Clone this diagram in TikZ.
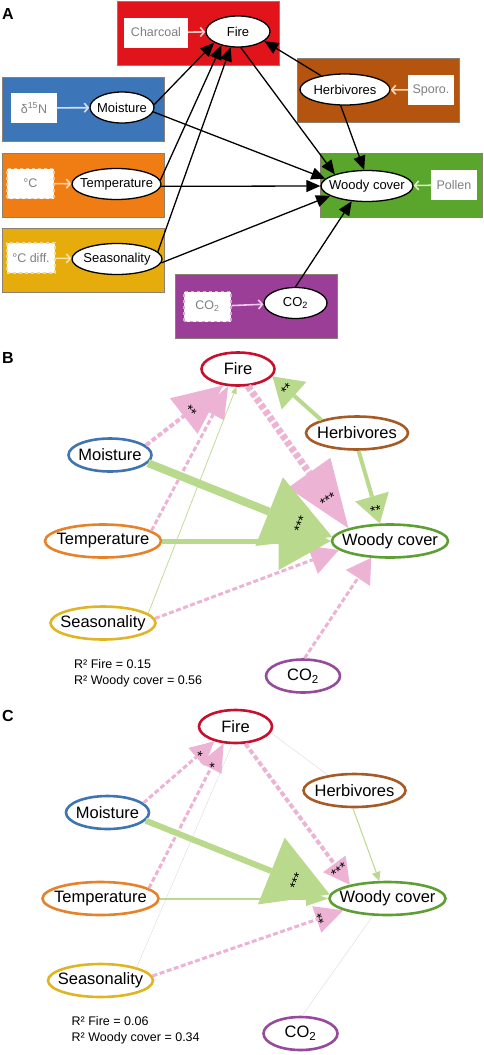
\documentclass[tikz,border=0pt]{standalone}
\usepackage{fontspec}
\setmainfont{Liberation Sans}
\usetikzlibrary{arrows.meta,shapes.geometric}
\definecolor{firered}{HTML}{E1141C}
\definecolor{herbbrown}{HTML}{B4540F}
\definecolor{moistblue}{HTML}{3C75B8}
\definecolor{temporange}{HTML}{F07D14}
\definecolor{woodgreen}{HTML}{5AA52B}
\definecolor{seasyellow}{HTML}{E6AC0C}
\definecolor{co2purple}{HTML}{9B3E97}
\definecolor{boxrule}{HTML}{8C7F73}
\definecolor{proxygray}{HTML}{7F7F7F}
\definecolor{fireline}{HTML}{C8102E}
\definecolor{herbline}{HTML}{A65A24}
\definecolor{moistline}{HTML}{3E74B2}
\definecolor{templine}{HTML}{E5822A}
\definecolor{woodline}{HTML}{5E9F34}
\definecolor{seasline}{HTML}{E0B523}
\definecolor{co2line}{HTML}{954A9B}
\definecolor{pospath}{HTML}{B9D98C}
\definecolor{negpath}{HTML}{ECB3D4}
\definecolor{charfeed}{HTML}{F6C9C9}
\definecolor{nfeed}{HTML}{CFE3F5}
\definecolor{tfeed}{HTML}{FCD6A6}
\definecolor{sfeed}{HTML}{FAE3A3}
\definecolor{hfeed}{HTML}{F9D9AE}
\definecolor{pfeed}{HTML}{D7EFC5}
\definecolor{cfeed}{HTML}{F3C6EF}
\newcommand{\zw}[1]{\makebox[0pt]{#1}}

\begin{document}
\begin{tikzpicture}[x=1pt,y=-1pt,
  grp/.style={draw=boxrule, line width=0.8pt, minimum width=162, minimum height=64, inner sep=0pt},
  proxy/.style={fill=white, text=proxygray, inner sep=0pt, minimum height=30, font=\fontsize{12.5}{14}\selectfont},
  dproxy/.style={proxy, draw=#1, dashed, line width=1.2pt},
  latA/.style={ellipse, draw=black, fill=white, line width=1.3pt, minimum height=31, inner sep=0pt, font=\fontsize{13}{15}\selectfont},
  latB/.style={ellipse, draw=#1, line width=2.6pt, minimum height=33, inner sep=0pt, font=\fontsize{16.5}{18}\selectfont},
  feed/.style={-{Straight Barb[length=4pt,width=9pt]}, line width=1.6pt},
  causal/.style={-{Triangle[length=14pt,width=12pt]}, line width=1.3pt},
  head/.style 2 args={-{Triangle[length=#1,width=#2,line width=0pt]}},
  posarr/.style={draw=pospath, line width=#1},
  negarr/.style={draw=negpath, line width=#1, dash pattern=on 5pt off 2.5pt},
  faint/.style={draw=black!12, line width=0.5pt},
  sig/.style={font=\fontsize{14}{14}\selectfont, inner sep=0pt, sloped, rotate=90},
  rsq/.style={anchor=west, align=left, font=\fontsize{12.5}{16}\selectfont, inner sep=0pt},
  plab/.style={font=\bfseries\fontsize{16}{16}\selectfont, inner sep=0pt}]
\useasboundingbox (0,0) rectangle (483,1055);

% panel A: proxies and latent variables
\node[plab] (labA) at (8,14) {A};
\node[grp, fill=firered] (gFire) at (198.5,33.5) {};
\node[grp, fill=herbbrown] (gHerb) at (378,90) {};
\node[grp, fill=moistblue] (gMoist) at (83,109.5) {};
\node[grp, fill=temporange] (gTemp) at (83,185) {};
\node[grp, fill=woodgreen] (gWoody) at (401.5,185.5) {};
\node[grp, fill=seasyellow] (gSeas) at (83,260.5) {};
\node[grp, fill=co2purple] (gCo2) at (256,306.5) {};

\node[proxy, minimum width=64] (charcoal) at (156,32.5) {Charcoal};
\node[proxy, minimum width=46] (d15n) at (34,108) {δ\textsuperscript{15}N};
\node[dproxy=temporange!45, minimum width=47] (degc) at (30.5,183.5) {°C};
\node[dproxy=seasyellow!45, minimum width=48] (degcdiff) at (31,258) {°C diff.};
\node[proxy, minimum width=46] (sporo) at (431,90) {Sporo.};
\node[proxy, minimum width=46] (pollen) at (454,185) {Pollen};
\node[dproxy=co2purple!45, minimum width=47] (co2proxy) at (207.5,306.5) {CO\textsubscript{2}};

\node[latA, minimum width=64] (fireA) at (238,31.5) {\zw{Fire}};
\node[latA, minimum width=90] (herbA) at (345,89.5) {\zw{Herbivores}};
\node[latA, minimum width=64] (moistA) at (122,107.5) {\zw{Moisture}};
\node[latA, minimum width=89] (tempA) at (116.5,184) {\zw{Temperature}};
\node[latA, minimum width=92] (woodyA) at (367,186) {\zw{Woody cover}};
\node[latA, minimum width=90] (seasA) at (117,259) {\zw{Seasonality}};
\node[latA, minimum width=63] (co2A) at (295.5,303) {\zw{CO\textsubscript{2}}};

\foreach \s/\e/\c in {charcoal/fireA/charfeed, d15n/moistA/nfeed, degc/tempA/tfeed,
  degcdiff/seasA/sfeed, sporo/herbA/hfeed, pollen/woodyA/pfeed, co2proxy/co2A/cfeed}
  \draw[feed, draw=\c] (\s) -- (\e);

\foreach \s/\e in {moistA.5/fireA.205, tempA.5/fireA.220, seasA.10/fireA.245,
  herbA.150/fireA.-20, fireA.-80/woodyA.160, herbA.-105/woodyA.100,
  moistA.-8/woodyA.170, tempA.-3/woodyA.180, seasA.-5/woodyA.195, co2A.90/woodyA.225}
  \draw[causal] (\s) -- (\e);

% panels B and C: fitted models
\foreach \p/\dx/\dy/\rf/\rw in {B/0/0/0.15/0.56, C/-2.5/357.5/0.06/0.34}{
  \node[plab] (lab\p) at (8,{358+\dy}) {\p};
  \foreach \n/\x/\y/\w/\c/\t in {fire/238/369/73/fireline/Fire,
    herb/357/433/102/herbline/Herbivores, moist/110/455/83/moistline/Moisture,
    temp/103/541/116/templine/Temperature, woody/390/541/116/woodline/Woody cover,
    seas/103/623/105/seasline/Seasonality, co2/303/676/74/co2line/{CO\textsubscript{2}}}
    \node[latB=\c, minimum width=\w] (\n\p) at ({\x+\dx},{\y+\dy}) {\zw{\t}};
  \node[rsq] (rsq\p) at ({74+\dx},{673+\dy}) {R² Fire = \rf\\R² Woody cover = \rw};
}

% B
\draw[negarr=4pt, head={50pt}{45pt}] (moistB.15) -- (fireB.228) node[sig, pos=0.62] {**};
\draw[negarr=3pt, head={32pt}{25pt}] (tempB.12) -- (fireB.240);
\draw[negarr=7pt, head={68pt}{52pt}] (fireB.-60) -- (woodyB.163) node[sig, pos=0.8] {***};
\draw[negarr=3pt, head={28pt}{30pt}] (seasB.5) -- (woodyB.190);
\draw[negarr=3pt, head={24pt}{29pt}] (co2B.85) -- (woodyB.222);
\draw[posarr=0.7pt, head={7pt}{6pt}] (seasB.12) -- (fireB.265);
\draw[posarr=4pt, head={29pt}{37pt}] (herbB.160) -- (fireB.-12) node[sig, pos=0.7] {**};
\draw[posarr=4pt, head={28pt}{35pt}] (herbB.-85) -- (woodyB.120) node[sig, pos=0.82] {**};
\draw[posarr=5pt, head={52pt}{58pt}] (tempB.0) -- (woodyB.180);
\draw[posarr=8pt, head={68pt}{74pt}] (moistB.-12) -- (woodyB.176) node[sig, pos=0.83] {***};

% C
\draw[faint] (herbC.150) -- (fireC.-10);
\draw[faint] (seasC.20) -- (fireC.260);
\draw[faint] (co2C.85) -- (woodyC.230);
\draw[negarr=3pt, head={24pt}{24pt}] (moistC.15) -- (fireC.215) node[sig, pos=0.82] {*};
\draw[negarr=3pt, head={28pt}{24pt}] (tempC.12) -- (fireC.235) node[sig, pos=0.86] {*};
\draw[negarr=4pt, head={26pt}{28pt}] (fireC.-60) -- (woodyC.160) node[sig, pos=0.9] {***};
\draw[negarr=3pt, head={28pt}{28pt}] (seasC.5) -- (woodyC.195) node[sig, pos=0.89] {**};
\draw[posarr=1pt, head={9pt}{9pt}] (herbC.-95) -- (woodyC.115);
\draw[posarr=2pt, head={22pt}{15pt}] (tempC.0) -- (woodyC.180);
\draw[posarr=6pt, head={63pt}{72pt}] (moistC.-12) -- (woodyC.176) node[sig, pos=0.82] {***};
\end{tikzpicture}
\end{document}
